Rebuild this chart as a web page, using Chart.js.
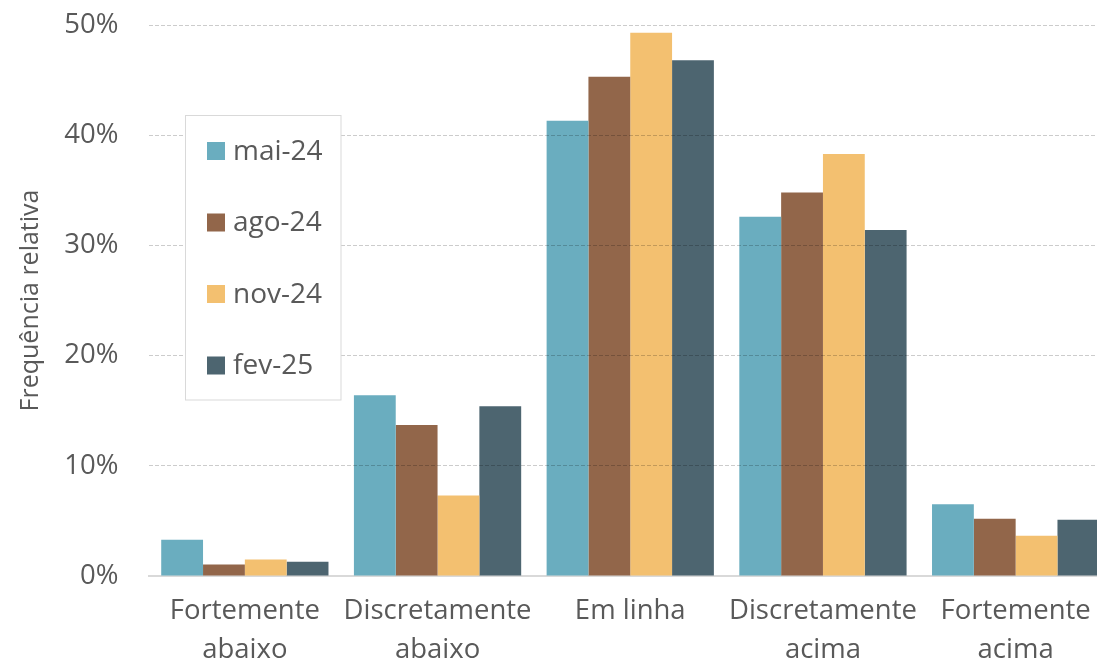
<!DOCTYPE html>
<html>
<head>
<meta charset="utf-8">
<script src="https://cdn.jsdelivr.net/npm/chart.js@4"></script>
<style>
html,body{margin:0;padding:0;background:#fff;overflow:hidden;}
#wrap{width:1112px;height:660px;}
</style>
</head>
<body>
<div id="wrap"><canvas id="c" width="1112" height="660"></canvas></div>
<script>
const categories = [['Fortemente','abaixo'],['Discretamente','abaixo'],['Em linha'],['Discretamente','acima'],['Fortemente','acima']];
const seriesNames = ['mai-24','ago-24','nov-24','fev-25'];
const mai24 = [3.3, 16.4, 41.3, 32.6, 6.5];
const ago24 = [1.05, 13.7, 45.3, 34.8, 5.2];
const nov24 = [1.5, 7.3, 49.3, 38.3, 3.65];
const fev25 = [1.3, 15.4, 46.8, 31.4, 5.1];
const yTicks = [0, 10, 20, 30, 40, 50];
const colors = ['#6AADBF', '#92664A', '#F3C070', '#4D6570'];
const FONT = '"Open Sans", sans-serif';
const TXT = '#595959';

const legendBox = {
  id: 'legendBox',
  afterDraw(chart) {
    const ctx = chart.ctx;
    ctx.save();
    ctx.fillStyle = '#fff';
    ctx.fillRect(185.5, 115.5, 155.5, 284.5);
    ctx.strokeStyle = '#d9d9d9';
    ctx.lineWidth = 1;
    ctx.strokeRect(185.5, 115.5, 155.5, 284.5);
    ctx.font = '28px ' + FONT;
    ctx.textBaseline = 'middle';
    ctx.textAlign = 'left';
    chart.data.datasets.forEach((ds, i) => {
      const cy = 151 + i * 71.5;
      ctx.fillStyle = ds.backgroundColor;
      ctx.fillRect(207, cy - 9, 18, 18);
      ctx.fillStyle = TXT;
      ctx.fillText(ds.label, 233, cy + 1);
    });
    ctx.restore();
  }
};

const seriesData = [mai24, ago24, nov24, fev25];
new Chart(document.getElementById('c'), {
  type: 'bar',
  data: {
    labels: categories,
    datasets: seriesNames.map((n, i) => ({
      label: n,
      data: seriesData[i],
      backgroundColor: colors[i],
      borderWidth: 0,
      categoryPercentage: 0.868,
      barPercentage: 1.0
    }))
  },
  options: {
    responsive: false,
    animation: false,
    devicePixelRatio: 1,
    layout: { padding: { top: 25, right: 0, left: 0, bottom: 0 } },
    plugins: { legend: { display: false }, tooltip: { enabled: false } },
    scales: {
      x: {
        grid: { display: false, drawTicks: false },
        border: { display: true, color: '#d9d9d9', width: 2 },
        ticks: { color: TXT, font: { family: FONT, size: 27.5, lineHeight: 1.42 }, padding: 16, maxRotation: 0, autoSkip: false },
        afterFit(s) { s.height = 84; }
      },
      y: {
        min: 0, max: 50,
        afterBuildTicks(s) { s.ticks = yTicks.map(v => ({ value: v })); },
        grid: { color: c => c.tick && c.tick.value === 0 ? 'rgba(0,0,0,0)' : 'rgba(0,0,0,0.2)', lineWidth: 1, drawTicks: true, tickLength: 30, tickColor: 'rgba(0,0,0,0)', z: 1 },
        border: { display: false, dash: [4, 2] },
        ticks: { color: TXT, font: { family: FONT, size: 27.5 }, padding: 0, callback: v => v + '%' },
        title: { display: true, text: 'Frequência relativa', color: TXT, font: { family: FONT, size: 25 }, padding: { top: 16, bottom: 0 } },
        afterFit(s) { s.width = 148.5; }
      }
    }
  },
  plugins: [legendBox]
});
</script>
</body>
</html>
